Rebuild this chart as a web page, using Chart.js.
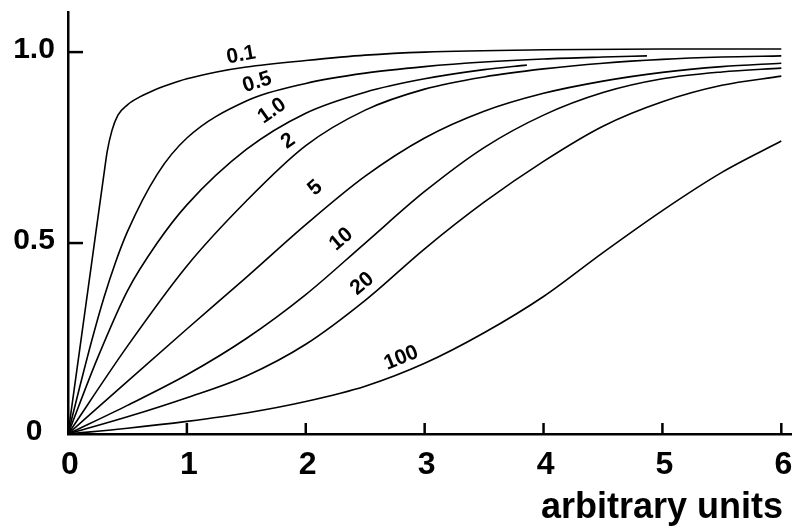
<!DOCTYPE html>
<html>
<head>
<meta charset="utf-8">
<script src="https://cdn.jsdelivr.net/npm/chart.js@4.4.0/dist/chart.umd.min.js"></script>
<style>
  html, body { margin: 0; padding: 0; background: #fff; }
  canvas { display: block; }
</style>
</head>
<body>
<canvas id="curves" width="792" height="528"></canvas>
<script>
// tick values and labels
const xTicks = [0, 1, 2, 3, 4, 5, 6];
const yTicks = [0, 0.5, 1.0];
const yTickLabels = ["0", "0.5", "1.0"];
const xTitle = "arbitrary units";

// curve names (as written on the plot)
const curveNames = ["0.1", "0.5", "1.0", "2", "5", "10", "20", "100"];

// values, one x/y pair of arrays per curve
const x01 = [0, 0.1, 0.2, 0.3, 0.33, 0.37, 0.42, 0.5, 0.6, 0.7, 0.85, 1, 1.25, 1.5, 2, 2.5, 3, 4, 5, 6];
const y01 = [0, 0.225, 0.45, 0.675, 0.74, 0.795, 0.835, 0.862, 0.882, 0.897, 0.915, 0.93, 0.948, 0.961, 0.978, 0.992, 1.0, 1.006, 1.008, 1.008];

const x05 = [0, 0.1, 0.2, 0.3, 0.4, 0.5, 0.75, 1, 1.5, 2, 2.5, 3, 3.5, 4, 4.5, 4.87];
const y05 = [0, 0.125, 0.245, 0.355, 0.45, 0.53, 0.68, 0.775, 0.872, 0.918, 0.945, 0.962, 0.974, 0.982, 0.987, 0.99];

const x1 = [0, 0.25, 0.5, 0.75, 1, 1.5, 2, 2.5, 3, 3.5, 3.86];
const y1 = [0, 0.2, 0.375, 0.5, 0.6, 0.745, 0.84, 0.895, 0.93, 0.954, 0.966];

// the other curves share one x grid
const xGrid = [0, 0.5, 1, 1.5, 2, 2.5, 3, 3.5, 4, 4.5, 5, 5.5, 6];
const y2 = [0, 0.23, 0.44, 0.61, 0.755, 0.848, 0.903, 0.935, 0.956, 0.971, 0.981, 0.987, 0.99];
const y5 = [0, 0.138, 0.275, 0.41, 0.548, 0.675, 0.775, 0.845, 0.892, 0.924, 0.947, 0.962, 0.971];
const y10 = [0, 0.075, 0.155, 0.25, 0.365, 0.5, 0.635, 0.75, 0.835, 0.894, 0.93, 0.948, 0.958];
const y20 = [0, 0.045, 0.095, 0.152, 0.235, 0.35, 0.485, 0.607, 0.714, 0.806, 0.87, 0.913, 0.937];
const y100 = [0, 0.015, 0.033, 0.055, 0.085, 0.125, 0.185, 0.265, 0.36, 0.475, 0.585, 0.685, 0.767];

const curveX = [x01, x05, x1, xGrid, xGrid, xGrid, xGrid, xGrid];
const curveY = [y01, y05, y1, y2, y5, y10, y20, y100];

// where each curve name sits (data units) and its tilt in degrees
const nameSpots = [
  { x: 1.456, y: 0.992, rot: -10 },
  { x: 1.591, y: 0.921, rot: -18 },
  { x: 1.717, y: 0.846, rot: -35 },
  { x: 1.852, y: 0.767, rot: -35 },
  { x: 2.079, y: 0.644, rot: -40 },
  { x: 2.298, y: 0.510, rot: -40 },
  { x: 2.475, y: 0.393, rot: -40 },
  { x: 2.803, y: 0.199, rot: -22 }
];

function toPoints(xs, ys) {
  return xs.map((v, i) => ({ x: v, y: ys[i] }));
}

const FONT = "'Liberation Sans', Arial, sans-serif";

// inward ticks, tick labels, curve names, axis title
const decorations = {
  id: "decorations",
  afterDraw(chart) {
    const ctx = chart.ctx;
    const xs = chart.scales.x;
    const ys = chart.scales.y;
    const area = chart.chartArea;
    ctx.save();
    ctx.strokeStyle = "#000";
    ctx.fillStyle = "#000";
    ctx.lineWidth = 2.5;

    // x ticks point up into the plot
    xTicks.forEach((t) => {
      if (t === 0) return;
      const px = xs.getPixelForValue(t);
      ctx.beginPath();
      ctx.moveTo(px, area.bottom);
      ctx.lineTo(px, area.bottom - 11);
      ctx.stroke();
    });
    // y ticks point right into the plot
    yTicks.forEach((t) => {
      if (t === 0) return;
      const py = ys.getPixelForValue(t);
      ctx.beginPath();
      ctx.moveTo(area.left, py);
      ctx.lineTo(area.left + 15, py);
      ctx.stroke();
    });

    ctx.font = "bold 32px " + FONT;
    ctx.textAlign = "center";
    ctx.textBaseline = "alphabetic";
    xTicks.forEach((t) => {
      ctx.fillText(String(t), xs.getPixelForValue(t) + 2, 474);
    });

    ctx.font = "bold 30px " + FONT;
    yTicks.forEach((t, i) => {
      ctx.fillText(yTickLabels[i], 34, ys.getPixelForValue(t) + 6);
    });

    ctx.font = "bold 36px " + FONT;
    ctx.textAlign = "right";
    ctx.fillText(xTitle, 783, 518);

    ctx.font = "bold 21px " + FONT;
    ctx.textAlign = "center";
    ctx.textBaseline = "middle";
    nameSpots.forEach((s, i) => {
      ctx.save();
      ctx.translate(xs.getPixelForValue(s.x), ys.getPixelForValue(s.y));
      ctx.rotate((s.rot * Math.PI) / 180);
      ctx.fillText(curveNames[i], 0, 0);
      ctx.restore();
    });
    ctx.restore();
  }
};

new Chart(document.getElementById("curves"), {
  type: "scatter",
  data: {
    datasets: curveNames.map((name, i) => ({
      label: name,
      data: toPoints(curveX[i], curveY[i]),
      showLine: true,
      borderColor: "#000",
      borderWidth: 1.6,
      pointRadius: 0,
      fill: false,
      cubicInterpolationMode: "monotone"
    }))
  },
  options: {
    responsive: false,
    animation: false,
    devicePixelRatio: 1,
    layout: { padding: { left: 68, right: 0, top: 12, bottom: 94 } },
    plugins: {
      legend: { display: false },
      tooltip: { enabled: false },
      title: { display: false }
    },
    scales: {
      x: {
        type: "linear",
        min: 0,
        max: 6.09,
        ticks: { display: false },
        grid: { display: false, drawTicks: false },
        border: { display: true, width: 2.5, color: "#000" }
      },
      y: {
        type: "linear",
        min: 0,
        max: 1.105,
        ticks: { display: false },
        grid: { display: false, drawTicks: false },
        border: { display: true, width: 2.5, color: "#000" }
      }
    }
  },
  plugins: [decorations]
});
</script>
</body>
</html>
